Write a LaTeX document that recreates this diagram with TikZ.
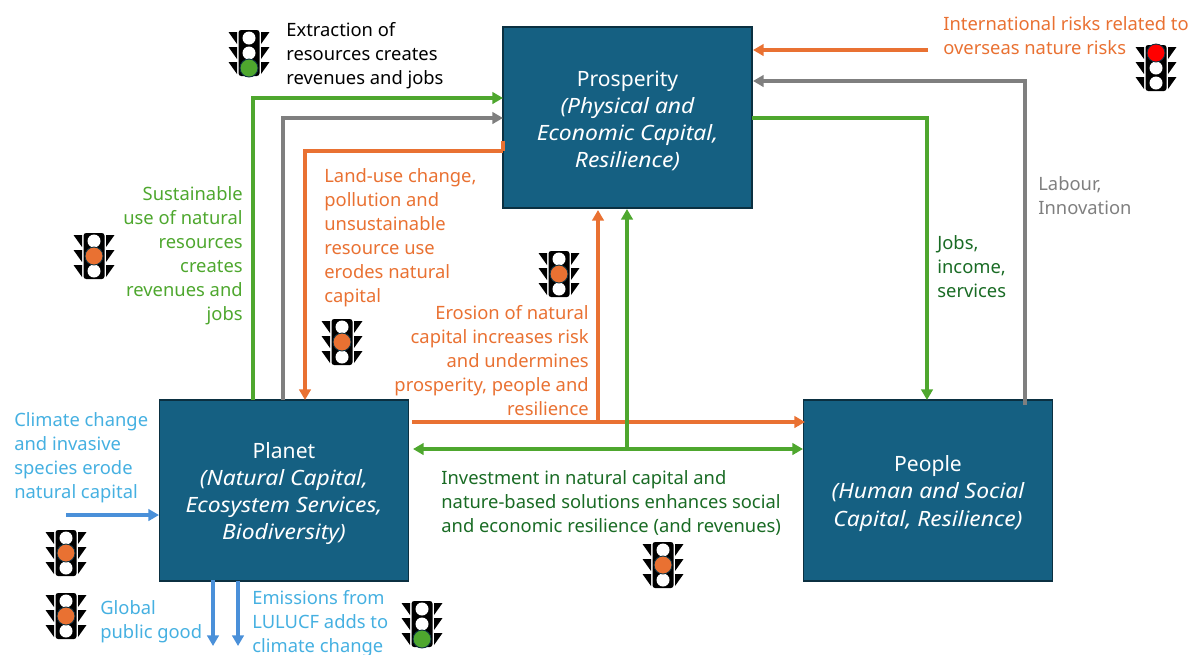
\documentclass[tikz,border=0pt]{standalone}
\usepackage{fontspec}
\setmainfont{Noto Sans}
\newfontfamily\capitalit[FakeStretch=1.085]{Noto Sans}
\definecolor{boxblue}{HTML}{156082}
\definecolor{boxedge}{HTML}{0B3041}
\definecolor{riskorange}{HTML}{E97132}
\definecolor{flowgreen}{HTML}{4EA72E}
\definecolor{darkgreen}{HTML}{196B24}
\definecolor{flowgray}{HTML}{7F7F7F}
\definecolor{flowblue}{HTML}{4A90D9}
\definecolor{textblue}{HTML}{45B0E1}
\definecolor{lightred}{HTML}{FF0000}
\newcommand{\capname}[1]{\rule{0pt}{12.5pt}#1}
\newcommand{\capit}[1]{{\capitalit\itshape #1}}
\usetikzlibrary{arrows.meta}
\tikzset{
	capital/.style={draw=boxedge, line width=1pt, fill=boxblue, text=white, align=center,
		minimum width=4.98cm, minimum height=3.62cm, font=\fontsize{12}{15.4}\selectfont},
	lbl/.style={inner sep=0pt, font=\fontsize{10.45}{13.66}\selectfont},
	flow/.style={line width=1.8pt, -{Triangle[length=6pt,width=6.5pt]}},
	line/.style={line width=1.8pt},
	pics/trafficlight/.style 2 args={code={
		\fill[black, rounded corners=1.5pt] (-10.5,-23) rectangle (10.5,23);
		\foreach \yy in {-15,0,15} {
			\fill[black] (-20.5,\yy-6) -- (-12,\yy-6) -- (-12,\yy+6) -- cycle;
			\fill[black] (20.5,\yy-6) -- (12,\yy-6) -- (12,\yy+6) -- cycle;
			\fill[white] (0,\yy) circle (6.5);
		}
		\fill[#1, draw=boxedge, line width=0.5pt] (0,#2) circle (9);
	}}
}
\begin{document}
\begin{tikzpicture}[x=0.02cm, y=-0.02cm]
	\useasboundingbox (0,0) rectangle (1189,654);
	% capitals
	\node[capital] (prosperity) at (627.5,117.5) {\capname{Prosperity}\\\capit{(Physical and}\\\capit{Economic Capital,}\\\capit{Resilience)}};
	\node[capital] (planet) at (284,490.5) {\capname{Planet}\\\capit{(Natural Capital,}\\\capit{Ecosystem Services,}\\\capit{Biodiversity)}};
	\node[capital] (people) at (928,490.5) {\capname{People}\\\capit{(Human and Social}\\\capit{Capital, Resilience)}};
	% labels
	\node[lbl, anchor=west, align=left] (extraction) at (286,55.5) {Extraction of\\resources creates\\revenues and jobs};
	\node[lbl, anchor=east, align=right, text=flowgreen] (sustainable) at (243,255.5) {Sustainable\\use of natural\\resources\\creates\\revenues and\\jobs};
	\node[lbl, anchor=west, align=left, text=riskorange] (landuse) at (324,238) {Land-use change,\\pollution and\\unsustainable\\resource use\\erodes natural\\capital};
	\node[lbl, anchor=east, align=right, text=riskorange] (erosion) at (589,361) {Erosion of natural\\capital increases risk\\and undermines\\prosperity, people and\\resilience};
	\node[lbl, anchor=west, align=left, text=riskorange] (international) at (943,36) {International risks related to\\overseas nature risks};
	\node[lbl, anchor=west, align=left, text=flowgray] (labour) at (1038,196) {Labour,\\Innovation};
	\node[lbl, anchor=west, align=left, text=darkgreen] (jobs) at (937,267) {Jobs,\\income,\\services};
	\node[lbl, anchor=west, align=left, text=darkgreen] (investment) at (441,503) {Investment in natural capital and\\nature-based solutions enhances social\\and economic resilience (and revenues)};
	\node[lbl, anchor=west, align=left, text=textblue] (climate) at (14,457.5) {Climate change\\and invasive\\species erode\\natural capital};
	\node[lbl, anchor=west, align=left, text=textblue] (global) at (100,621.5) {Global\\public good};
	\node[lbl, anchor=west, align=left, text=textblue] (emissions) at (252,623.5) {Emissions from\\LULUCF adds to\\climate change};
	% free ends
	\coordinate (risksin) at (928,50);
	\coordinate (climatein) at (66,515);
	\coordinate (goodout) at (213,646);
	\coordinate (lulucfout) at (238,646);
	\coordinate (erosionstart) at (412,422);
	\coordinate (erosionup) at (598,422);
	\coordinate (investjoin) at (627,449);
	% connectors
	\draw[flow, flowgreen] (253,400) |- (503,98);
	\draw[flow, flowgray] (283,400) |- (503,118);
	\draw[line, riskorange] (503,141) -- (503,151);
	\draw[flow, riskorange] (503,151) -| (305,400);
	\draw[flow, flowgreen] (752,118) -| (927,400);
	\draw[flow, flowgray] (1025,405) |- (753,81);
	\draw[flow, riskorange] (risksin) -- (753,50);
	\draw[flow, riskorange] (erosionstart) -- (805,422);
	\draw[flow, riskorange] (erosionup) -- (598,210);
	\draw[flow, flowgreen] (investjoin) -- (627,209);
	\draw[flow, flowgreen] (investjoin) -- (413,449);
	\draw[flow, flowgreen] (investjoin) -- (803,449);
	\draw[flow, flowblue] (climatein) -- (159,515);
	\draw[flow, flowblue] (213,580) -- (goodout);
	\draw[flow, flowblue] (238,581) -- (lulucfout);
	% lights
	\pic at (249,53) {trafficlight={flowgreen}{15}};
	\pic at (94,256) {trafficlight={riskorange}{0}};
	\pic at (342,342) {trafficlight={riskorange}{0}};
	\pic at (559,274) {trafficlight={riskorange}{0}};
	\pic at (1156,68) {trafficlight={lightred}{-15}};
	\pic at (663,565) {trafficlight={riskorange}{0}};
	\pic at (66,553) {trafficlight={riskorange}{0}};
	\pic at (66,616) {trafficlight={riskorange}{0}};
	\pic at (422,624) {trafficlight={flowgreen}{15}};
\end{tikzpicture}
\end{document}
